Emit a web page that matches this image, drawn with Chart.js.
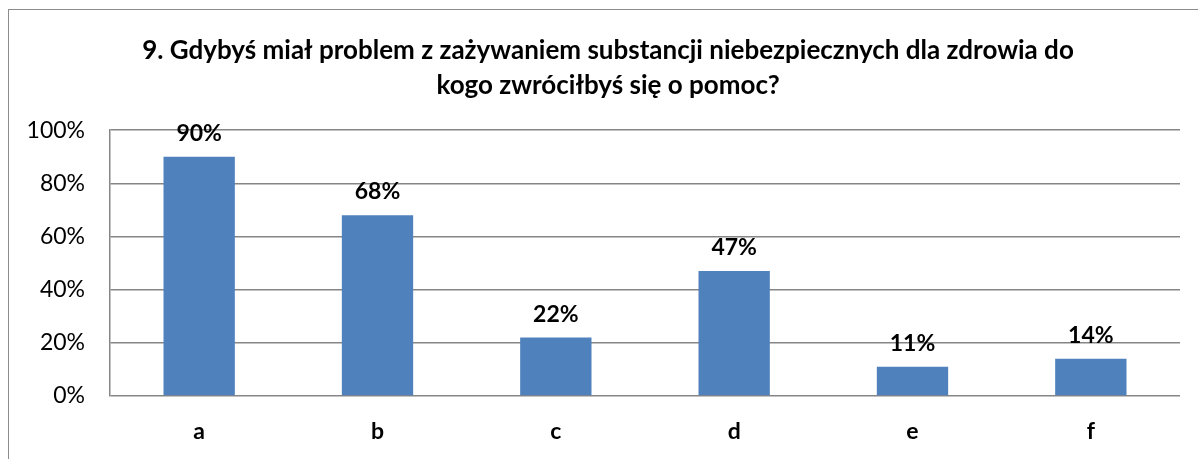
<!DOCTYPE html>
<html>
<head>
<meta charset="utf-8">
<script src="https://cdn.jsdelivr.net/npm/chart.js@4"></script>
<style>
    html, body { margin: 0; background: #fff; overflow: hidden; }
    #frame {
        position: absolute;
        left: 8px;
        top: 9px;
        width: 1300px;
        height: 500px;
        border: 1px solid #8c8c8c;
    }
    #bar-chart { position: absolute; left: 0; top: 0; }
</style>
</head>
<body>
<div id="frame"></div>
<canvas id="bar-chart" width="1198" height="459"></canvas>
<script>
const titleLines = ["9. Gdybyś miał problem z zażywaniem substancji niebezpiecznych dla zdrowia do", "kogo zwróciłbyś się o pomoc?"];
const categories = ["a", "b", "c", "d", "e", "f"];
const percents = [90, 68, 22, 47, 11, 14];
const yTicks = [0, 20, 40, 60, 80, 100];

const fontFamily = "Lato, 'Open Sans', sans-serif";
const gridGray = '#868686';

// value labels above each bar
const valueLabels = {
    id: 'valueLabels',
    afterDatasetsDraw(chart) {
        const ctx = chart.ctx;
        const meta = chart.getDatasetMeta(0);
        ctx.save();
        ctx.font = 'bold 23px ' + fontFamily;
        ctx.fillStyle = '#000';
        ctx.textAlign = 'center';
        ctx.textBaseline = 'alphabetic';
        meta.data.forEach((bar, i) => {
            ctx.fillText(percents[i] + '%', bar.x, bar.y - 16);
        });
        ctx.restore();
    }
};

// title sits centred on the frame, a bit right of the plot centre
const titleShift = {
    id: 'titleShift',
    afterLayout(chart) {
        const t = chart.titleBlock;
        if (t) {
            t.left += 18;
            t.right += 18;
        }
    }
};

const barData = {
    labels: categories,
    datasets: [{
        data: percents,
        backgroundColor: '#4f81bd',
        borderWidth: 0,
        categoryPercentage: 1,
        barPercentage: 0.4
    }]
};

const chartOptions = {
    responsive: false,
    animation: false,
    layout: {
        padding: { top: 33, right: 18, bottom: 13, left: 0 }
    },
    scales: {
        x: {
            afterFit(scale) { scale.height = 50; },
            grid: { display: false, drawTicks: false },
            border: { display: false },
            ticks: {
                padding: 22,
                color: '#000',
                font: { family: fontFamily, size: 23, weight: 'bold' }
            }
        },
        y: {
            min: 0,
            max: 100,
            afterFit(scale) { scale.width = 110; },
            afterBuildTicks(scale) { scale.ticks = yTicks.map(v => ({ value: v })); },
            grid: { color: gridGray, lineWidth: 1.5, drawTicks: false },
            border: { display: true, color: gridGray, width: 1.5 },
            ticks: {
                padding: 25,
                color: '#000',
                font: { family: fontFamily, size: 23 },
                callback: v => v + '%'
            }
        }
    },
    plugins: {
        legend: { display: false },
        tooltip: { enabled: false },
        title: {
            display: true,
            text: titleLines,
            color: '#000',
            font: { family: fontFamily, size: 26, weight: 'bold', lineHeight: 1.35 },
            padding: { top: 0, bottom: 27 }
        }
    }
};

new Chart(document.getElementById("bar-chart"), {
    type: 'bar',
    data: barData,
    options: chartOptions,
    plugins: [valueLabels, titleShift]
});
</script>
</body>
</html>
